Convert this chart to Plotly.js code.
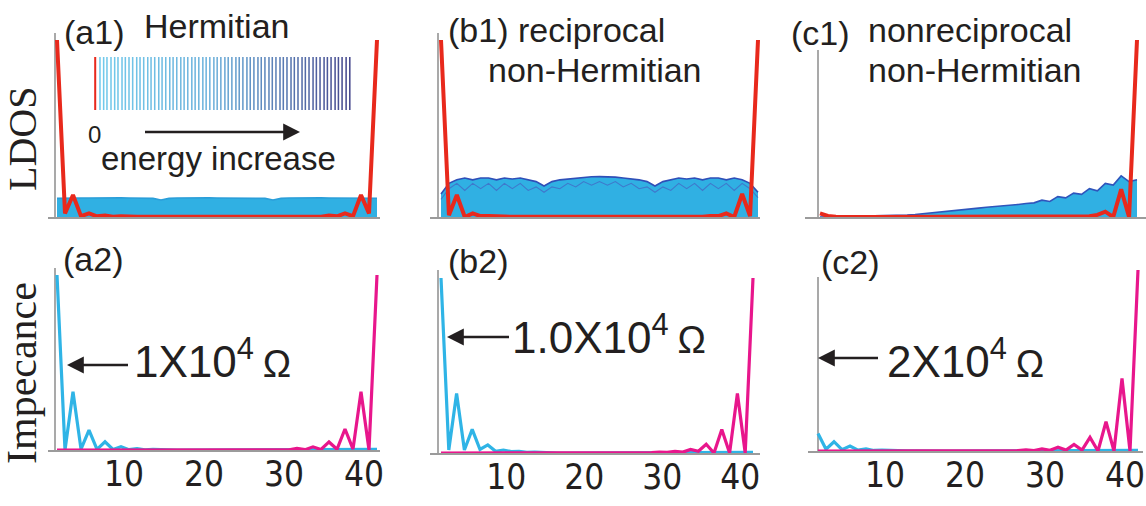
<!DOCTYPE html>
<html><head><meta charset="utf-8">
<script src="https://cdn.plot.ly/plotly-3.0.1.min.js"></script>
<style>html,body{margin:0;padding:0;background:#fff}#chart{width:1146px;height:506px}</style>
</head><body><div id="chart"></div>
<script>
// ---------------- DATA ----------------
const sites = [1,2,3,4,5,6,7,8,9,10,11,12,13,14,15,16,17,18,19,20,21,22,23,24,25,26,27,28,29,30,31,32,33,34,35,36,37,38,39,40,41];
const tickVals = [10,20,30,40];
const tickLabels = ['10','20','30','40'];

// LDOS (top row): red = zero-energy edge mode, band = envelope of the bulk modes
const a1Red  = [1.0,0.02,0.124,0.005,0.02,0.004,0.008,0.002,0.004,0.001,0.002,0.001,0.001,0,0,0,0,0,0,0,0,0,0,0,0,0,0,0,0.001,0.001,0.002,0.001,0.004,0.002,0.008,0.004,0.02,0.005,0.124,0.02,1.0];
const a1Band = [0.105,0.107,0.108,0.107,0.107,0.108,0.107,0.107,0.108,0.107,0.107,0.108,0.105,0.096,0.105,0.107,0.108,0.107,0.107,0.108,0.107,0.107,0.108,0.107,0.107,0.108,0.105,0.096,0.105,0.107,0.108,0.107,0.107,0.108,0.107,0.107,0.108,0.107,0.107,0.108,0.106];
const b1Red  = [1.0,0.01,0.124,0.0,0.02,0.005,0.006,0.002,0.003,0.001,0.001,0.001,0,0,0,0,0,0,0,0,0,0,0,0,0,0,0,0,0,0.001,0.001,0.001,0.003,0.002,0.006,0.005,0.02,0.0,0.13,0.005,1.0];
const b1Band = [0.13,0.19,0.21,0.22,0.21,0.22,0.22,0.21,0.22,0.215,0.22,0.21,0.2,0.175,0.2,0.21,0.215,0.22,0.225,0.227,0.228,0.227,0.225,0.22,0.215,0.21,0.2,0.175,0.2,0.21,0.22,0.215,0.22,0.21,0.22,0.22,0.21,0.22,0.21,0.19,0.14];
const b1Inner = [0.1,0.16,0.19,0.15,0.19,0.16,0.19,0.15,0.19,0.16,0.19,0.15,0.17,0.14,0.17,0.16,0.19,0.17,0.2,0.18,0.2,0.18,0.2,0.17,0.19,0.16,0.17,0.14,0.17,0.15,0.19,0.16,0.19,0.15,0.19,0.16,0.19,0.15,0.19,0.16,0.11];
const c1Red  = [0.02,0.006,0.002,0,0,0,0,0,0,0,0,0,0,0,0,0,0,0,0,0,0,0,0,0,0,0,0,0,0,0,0,0,0,0,0.004,0.012,0.03,0.0,0.156,0.0,1.0];
const c1Band = [0.0,0.001,0.001,0.002,0.002,0.003,0.003,0.004,0.005,0.006,0.008,0.011,0.014,0.018,0.022,0.026,0.031,0.036,0.041,0.045,0.05,0.055,0.058,0.062,0.066,0.071,0.076,0.08,0.095,0.088,0.115,0.108,0.135,0.128,0.16,0.148,0.19,0.18,0.232,0.2,0.21];

// Impedance (bottom row): cyan = left excitation, magenta = right excitation
const a2Cyan = [1.0,0.0,0.333,0.005,0.114,0.004,0.047,0.003,0.019,0.002,0.008,0.001,0.003,0.001,0.001,0,0,0,0,0,0,0,0,0,0,0,0,0,0,0,0,0,0,0,0,0,0,0,0,0.004,0.004];
const a2Mag  = [0,0,0,0,0,0,0,0,0,0,0,0,0,0,0,0,0,0,0,0,0,0,0,0,0,0,0.001,0.001,0.004,0.001,0.009,0.002,0.018,0.003,0.046,0.004,0.12,0.005,0.333,0.0,1.0];
const b2Cyan = [1.0,0.017,0.34,0.017,0.135,0.02,0.046,0.01,0.017,0.008,0.01,0.004,0.005,0.002,0.002,0,0,0,0,0,0,0,0,0,0,0,0,0,0,0,0,0,0,0,0,0,0,0,0,0.004,0.004];
const b2Mag  = [0,0,0,0,0,0,0,0,0,0,0,0,0,0,0,0,0,0,0,0,0,0,0,0,0,0,0.002,0.002,0.005,0.004,0.01,0.005,0.02,0.01,0.05,0.0,0.135,0.0,0.34,0.0,1.0];
const c2Cyan = [0.1,0.01,0.053,0.008,0.028,0.005,0.012,0.003,0.005,0.002,0.002,0.001,0,0,0,0,0,0,0,0,0,0,0,0,0,0,0,0,0,0,0,0,0,0,0,0,0,0,0,0.004,0.004];
const c2Mag  = [0,0,0,0,0,0,0,0,0,0,0,0,0.001,0.001,0.001,0.001,0.001,0.001,0.001,0.001,0.002,0.001,0.003,0.002,0.004,0.002,0.007,0.003,0.012,0.004,0.021,0.005,0.038,0.005,0.078,0.0,0.167,0.0,0.415,0.0,1.034];

// Inset spectrum (a1): zero mode + bulk energies (arbitrary units)
const zeroMode = [0];
const bulkEnergies = [1.3,2.3,3.2,4.3,5.3,6.2,7.3,8.2,9.2,10.2,11.3,12.2,13.2,14.3,15.2,16.2,17.3,18.2,19.2,20.3,21.2,22.2,23.3,24.2,25.2,26.3,27.2,28.2,29.3,30.2,31.2,32.3,33.2,34.2,35.3,36.2,37.2,38.3,39.2,40.2,41.3,42.2,43.2,44.3,45.2,46.2,47.3,48.2,49.2,50.3,51.2,52.2,53.3,54.2,55.2,56.3,57.2,58.2,59.3,60.2,61.2,62.3,63.2,64.2,65.3,66.2,67.2,68.3,69.3];
const specLineHeight = 1;

// ---------------- LAYOUT HELPERS ----------------
const W = 1146, H = 506;
const px = x => x / W;
const py = y => 1 - y / H;
const RED = '#e8291c', CYAN = '#2fb4e6', MAG = '#e8168c', BAND = '#30b0e3';
const TXT = '#231f20';
const SANS = 'Liberation Sans, Arial, sans-serif';
const NARROW = 'Liberation Sans Narrow, Arial Narrow, DejaVu Sans Condensed, Liberation Sans, sans-serif';
const SERIF = 'Liberation Serif, Times New Roman, serif';

const P = {
  a1:{xd:[48,380], x1:57,  x41:377,  base:217, top:27,  scale:177},
  b1:{xd:[430,760],x1:441, x41:758,  base:217, top:27,  scale:177},
  c1:{xd:[805,1146],x1:820,x41:1137, base:217, top:27,  scale:177},
  a2:{xd:[48,380], x1:57,  x41:377,  base:450, top:262, scale:175},
  b2:{xd:[430,760],x1:441, x41:753,  base:453, top:265, scale:175},
  c2:{xd:[808,1143],x1:818,x41:1138, base:451, top:262, scale:175}
};
function xAxis(p, labels){
  const ppu = (p.x41 - p.x1) / 40;
  return {domain:[px(p.xd[0]), px(p.xd[1])],
    range:[1 - (p.x1 - p.xd[0]) / ppu, 41 + (p.xd[1] - p.x41) / ppu],
    showline:true, linecolor:'#9b9b9b', linewidth:1.5, showgrid:false, zeroline:false,
    ticks:'', showticklabels:labels, tickmode:'array', tickvals:tickVals, ticktext:tickLabels,
    tickfont:{family:NARROW, size:35, color:TXT}, ticklabelstandoff:-8, ticklabelshift:-5,
    ticklabeloverflow:'allow', fixedrange:true};
}
function yAxis(p){
  return {domain:[py(p.base), py(p.top)], range:[0, (p.base - p.top) / p.scale],
    visible:false, fixedrange:true};
}

const layout = {
  width:W, height:H, margin:{l:0,r:0,t:0,b:0},
  paper_bgcolor:'#fff', plot_bgcolor:'rgba(0,0,0,0)', showlegend:false, hovermode:false,
  barmode:'overlay',
  xaxis:xAxis(P.a1,false),  yaxis:yAxis(P.a1),
  xaxis2:xAxis(P.b1,false), yaxis2:yAxis(P.b1),
  xaxis3:xAxis(P.c1,false), yaxis3:yAxis(P.c1),
  xaxis4:xAxis(P.a2,true),  yaxis4:yAxis(P.a2),
  xaxis5:xAxis(P.b2,true),  yaxis5:yAxis(P.b2),
  xaxis6:xAxis(P.c2,true),  yaxis6:yAxis(P.c2),
  xaxis7:{domain:[px(93), px(352)], range:[-0.6, 69.9], visible:false, fixedrange:true, anchor:'y7'},
  yaxis7:{domain:[py(110), py(57)], range:[0, 1], visible:false, fixedrange:true, anchor:'x7'},
  shapes:[
    [55,33,219],[438,33,219],[818,50,219],[55,268,452],[438,270,455],[818,277,453]
  ].map(([x,y0,y1]) => ({type:'line', xref:'paper', yref:'paper', x0:px(x), x1:px(x), y0:py(y0), y1:py(y1),
      line:{color:'#8c8c8c', width:1.5}, layer:'below'})),
  annotations:[]
};
['x','x2','x3','x4','x5','x6'].forEach((a,i)=>{ layout['xaxis'+(i?i+1:'')].anchor = 'y'+(i?i+1:''); });

function txt(text, x, y, size, opts){
  return Object.assign({text, xref:'paper', yref:'paper', x:px(x), y:py(y), xanchor:'left', yanchor:'middle',
    showarrow:false, font:{family:SANS, size, color:TXT}}, opts || {});
}
function arrow(xh, yh, dx){
  return {text:' ', xref:'paper', yref:'paper', x:px(xh), y:py(yh), ax:dx, ay:0, axref:'pixel', ayref:'pixel',
    showarrow:true, arrowhead:2, arrowsize:1.4, arrowwidth:2.4, arrowcolor:TXT, standoff:0, startstandoff:0,
    font:{size:2}};
}
const OM = '\u2009<span style="font-size:38px">\u03a9</span>';
layout.annotations.push(
  txt('(a1)', 62, 32, 34),
  txt('Hermitian', 142, 26, 34),
  txt('(b1) reciprocal', 446, 30, 34),
  txt('non-Hermitian', 486, 70, 34),
  txt('(c1)', 789, 33, 34),
  txt('nonreciprocal', 866, 30, 34),
  txt('non-Hermitian', 866, 70, 34),
  txt('(a2)', 61, 259, 34),
  txt('(b2)', 446, 261, 34),
  txt('(c2)', 819, 262, 34),
  txt('0', 94, 134, 24, {xanchor:'center'}),
  txt('energy increase', 99, 159, 33),
  txt('1X10<sup>4</sup>' + OM, 132, 358, 44),
  txt('1.0X10<sup>4</sup>' + OM, 510, 334, 44),
  txt('2X10<sup>4</sup>' + OM, 885, 358, 44),
  txt('LDOS', 23, 139, 40, {xanchor:'center', textangle:-90, font:{family:SERIF, size:40, color:TXT}}),
  txt('Impecance', 22, 373, 42, {xanchor:'center', textangle:-90, font:{family:SERIF, size:42, color:TXT}}),
  arrow(300, 132, -157),
  arrow(67, 365, 63),
  arrow(447, 337, 64),
  arrow(818, 358, 62)
);

function band(y, xa, ya, edge){
  return {type:'scatter', mode:'lines', x:sites, y, xaxis:xa, yaxis:ya, fill:'tozeroy',
    fillcolor:BAND, line:{color:edge, width:1.6, shape:'linear'}};
}
function ln(y, xa, ya, color, w){
  return {type:'scatter', mode:'lines', x:sites, y, xaxis:xa, yaxis:ya, line:{color, width:w}};
}
const data = [
  band(a1Band,'x','y','#2a9ed9'),  ln(a1Red,'x','y',RED,4),
  band(b1Band,'x2','y2','#2f4fb8'), ln(b1Inner,'x2','y2','#3f78cc',1.1), ln(b1Red,'x2','y2',RED,4),
  band(c1Band,'x3','y3','#2f55bc'), ln(c1Red,'x3','y3',RED,4),
  ln(a2Cyan,'x4','y4',CYAN,3.2), ln(a2Mag,'x4','y4',MAG,3.2),
  ln(b2Cyan,'x5','y5',CYAN,3.2), ln(b2Mag,'x5','y5',MAG,3.2),
  ln(c2Cyan,'x6','y6',CYAN,3.2), ln(c2Mag,'x6','y6',MAG,3.2),
  {type:'bar', x:zeroMode, y:zeroMode.map(()=>specLineHeight), width:0.55, xaxis:'x7', yaxis:'y7',
    marker:{color:RED, line:{width:0}}},
  {type:'bar', x:bulkEnergies, y:bulkEnergies.map(()=>specLineHeight), width:0.42, xaxis:'x7', yaxis:'y7',
    marker:{color:bulkEnergies, cmin:0, cmax:70,
      colorscale:[[0,'#72cbec'],[0.45,'#6fb2dc'],[1,'#45468c']], line:{width:0}}}
];
Plotly.newPlot('chart', data, layout, {staticPlot:true, displayModeBar:false});
</script></body></html>
